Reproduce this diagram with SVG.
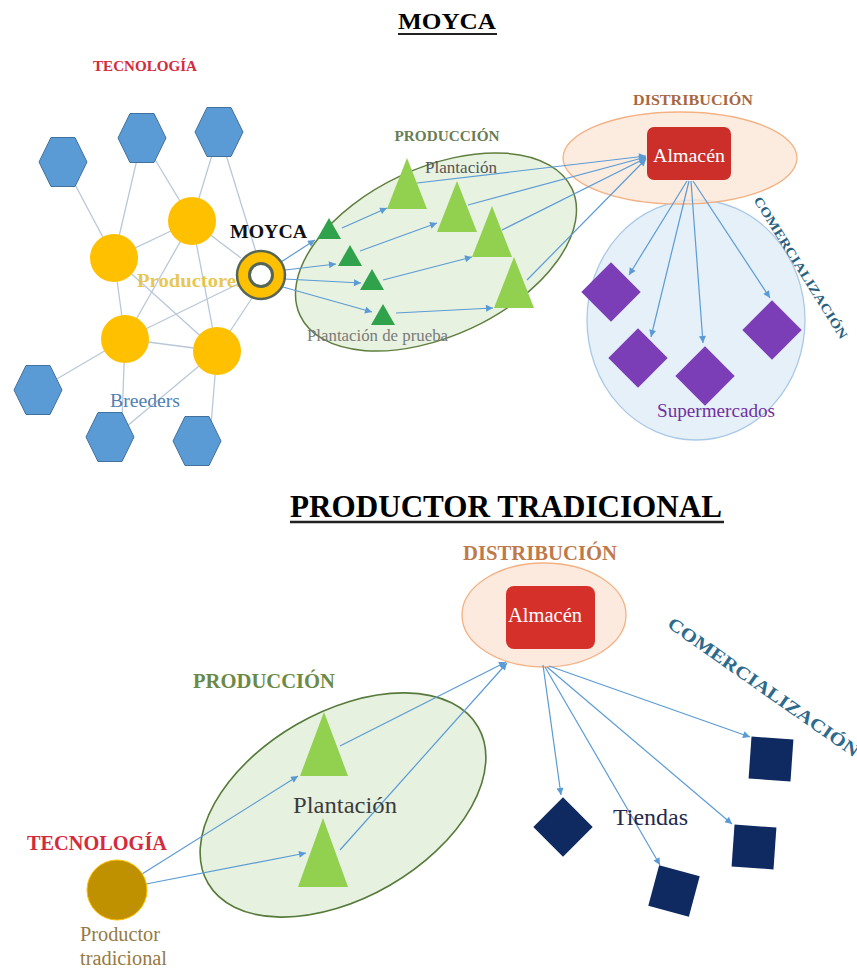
<svg xmlns="http://www.w3.org/2000/svg" xmlns:xlink="http://www.w3.org/1999/xlink" width="857" height="972" viewBox="0 0 857 972">
<style>
text{font-family:"Liberation Serif","Times New Roman",serif}
.b{font-weight:bold}
.net{stroke:#b9c8d8;stroke-width:1.3;fill:none}
.arr{stroke:#5b9bd5;stroke-width:1.2;fill:none;marker-end:url(#ah)}
.hex{fill:#5b9bd5;stroke:#41719c;stroke-width:1}
.prod{fill:#ffc000}
.st{fill:#2fa24b}
.lt{fill:#92d050}
.pur{fill:#7b3eb7}
.navy{fill:#0f2a60}
</style>
<defs>
<marker id="ah" viewBox="0 0 10 10" refX="10" refY="5" markerWidth="9" markerHeight="7" markerUnits="userSpaceOnUse" orient="auto">
<path d="M0,0 L10,5 L0,10 z" fill="#5b9bd5"/>
</marker>
<polygon id="hexs" points="-24,0 -12,-24.5 12,-24.5 24,0 12,24.5 -12,24.5"/>
<polygon id="tri" points="0,-26 20,25 -20,25"/>
<polygon id="stri" points="0,-11 12,10 -12,10"/>
<rect id="sq" x="-21" y="-21" width="42" height="42"/>
</defs>
<rect width="857" height="972" fill="#ffffff"/>

<!-- Titles -->
<g id="title-moyca">
<text x="447" y="29" class="b" font-size="23" text-anchor="middle" textLength="98" lengthAdjust="spacingAndGlyphs">MOYCA</text>
<line x1="398" y1="34" x2="497" y2="34" stroke="#222" stroke-width="2"/>
</g>
<g id="title-trad">
<text x="506" y="517" class="b" font-size="32" text-anchor="middle" textLength="432" lengthAdjust="spacingAndGlyphs">PRODUCTOR TRADICIONAL</text>
<line x1="290" y1="522" x2="724" y2="522" stroke="#222" stroke-width="2.5"/>
</g>

<!-- TOP: area ellipses -->
<g id="comercializacion-top">
<ellipse cx="696" cy="320" rx="109" ry="120" fill="#deebf7" fill-opacity="0.75" stroke="#a9c9e6" stroke-width="1.3"/>
<text class="b" font-size="13" fill="#2b5f7e" text-anchor="middle" textLength="165" lengthAdjust="spacingAndGlyphs" transform="translate(797,270) rotate(58)">COMERCIALIZACIÓN</text>
</g>
<g id="distribucion-top">
<ellipse cx="680" cy="158" rx="117" ry="46" fill="#fbe5d6" fill-opacity="0.75" stroke="#f4b183" stroke-width="1.3"/>
<text x="693" y="105" class="b" font-size="14" fill="#a8683f" text-anchor="middle" textLength="120" lengthAdjust="spacingAndGlyphs">DISTRIBUCIÓN</text>
</g>
<g id="produccion-top">
<ellipse cx="436" cy="252" rx="150" ry="84" transform="rotate(-25 436 252)" fill="#e2efd9" fill-opacity="0.8" stroke="#5e7e3e" stroke-width="1.5"/>
<text x="447" y="141" class="b" font-size="14" fill="#6a7d52" text-anchor="middle" textLength="105" lengthAdjust="spacingAndGlyphs">PRODUCCIÓN</text>
</g>
<text x="93" y="71" class="b" font-size="15" fill="#d42a3c" textLength="104" lengthAdjust="spacingAndGlyphs">TECNOLOGÍA</text>

<!-- BOTTOM: area ellipses -->
<g id="produccion-bottom">
<ellipse cx="343" cy="805" rx="156" ry="93" transform="rotate(-30 343 805)" fill="#e2efd9" fill-opacity="0.85" stroke="#567a3a" stroke-width="1.6"/>
<text x="193" y="688" class="b" font-size="20" fill="#6c8a47" textLength="142" lengthAdjust="spacingAndGlyphs">PRODUCCIÓN</text>
</g>
<g id="distribucion-bottom">
<ellipse cx="544" cy="615" rx="82" ry="52" fill="#fbe5d6" fill-opacity="0.8" stroke="#f4b183" stroke-width="1.3"/>
<text x="463" y="560" class="b" font-size="20" fill="#c0794a" textLength="154" lengthAdjust="spacingAndGlyphs">DISTRIBUCIÓN</text>
</g>
<text class="b" font-size="18" fill="#2d6a8c" text-anchor="middle" textLength="229" lengthAdjust="spacingAndGlyphs" transform="translate(760,692) rotate(35)">COMERCIALIZACIÓN</text>

<!-- connectors -->
<g id="connectors">
<line class="net" x1="63" y1="162" x2="114" y2="258"/>
<line class="net" x1="142" y1="138" x2="114" y2="258"/>
<line class="net" x1="142" y1="138" x2="192" y2="221"/>
<line class="net" x1="219" y1="132" x2="192" y2="221"/>
<line class="net" x1="219" y1="132" x2="256" y2="252"/>
<line class="net" x1="114" y1="258" x2="192" y2="221"/>
<line class="net" x1="114" y1="258" x2="125" y2="339"/>
<line class="net" x1="114" y1="258" x2="217" y2="351"/>
<line class="net" x1="192" y1="221" x2="125" y2="339"/>
<line class="net" x1="192" y1="221" x2="217" y2="351"/>
<line class="net" x1="192" y1="221" x2="241" y2="258"/>
<line class="net" x1="125" y1="339" x2="238" y2="284"/>
<line class="net" x1="125" y1="339" x2="217" y2="351"/>
<line class="net" x1="217" y1="351" x2="252" y2="298"/>
<line class="net" x1="125" y1="339" x2="38" y2="390"/>
<line class="net" x1="125" y1="339" x2="122" y2="420"/>
<line class="net" x1="217" y1="351" x2="120" y2="432"/>
<line class="net" x1="217" y1="351" x2="211" y2="425"/>

<line class="arr" x1="281" y1="262" x2="315" y2="240"/>
<line class="arr" x1="285" y1="270" x2="336" y2="264"/>
<line class="arr" x1="285" y1="279" x2="361" y2="283"/>
<line class="arr" x1="283" y1="287" x2="372" y2="312"/>
<line class="arr" x1="342" y1="228" x2="387" y2="208"/>
<line class="arr" x1="360" y1="251" x2="437" y2="223"/>
<line class="arr" x1="383" y1="280" x2="472" y2="257"/>
<line class="arr" x1="396" y1="313" x2="493" y2="308"/>
<line class="arr" x1="417" y1="183" x2="646" y2="156"/>
<line class="arr" x1="468" y1="205" x2="646" y2="157"/>
<line class="arr" x1="502" y1="230" x2="646" y2="158"/>
<line class="arr" x1="527" y1="280" x2="646" y2="159"/>
<line class="arr" x1="687" y1="181" x2="629" y2="275"/>
<line class="arr" x1="689" y1="181" x2="651" y2="337"/>
<line class="arr" x1="691" y1="181" x2="703" y2="343"/>
<line class="arr" x1="693" y1="181" x2="770" y2="298"/>

<line class="arr" x1="142" y1="874" x2="298" y2="776"/>
<line class="arr" x1="146" y1="884" x2="306" y2="853"/>
<line class="arr" x1="340" y1="746" x2="506" y2="662"/>
<line class="arr" x1="340" y1="850" x2="507" y2="663"/>
<line class="arr" x1="543" y1="665" x2="561" y2="795"/>
<line class="arr" x1="545" y1="667" x2="660" y2="865"/>
<line class="arr" x1="547" y1="667" x2="732" y2="824"/>
<line class="arr" x1="549" y1="666" x2="750" y2="737"/>
</g>

<!-- TOP nodes: breeders -->
<g id="breeder-1"><use xlink:href="#hexs" class="hex" x="63" y="162"/></g>
<g id="breeder-2"><use xlink:href="#hexs" class="hex" x="142" y="138"/></g>
<g id="breeder-3"><use xlink:href="#hexs" class="hex" x="219" y="132"/></g>
<g id="breeder-4"><use xlink:href="#hexs" class="hex" x="38" y="390"/></g>
<g id="breeder-5"><use xlink:href="#hexs" class="hex" x="110" y="437"/></g>
<g id="breeder-6"><use xlink:href="#hexs" class="hex" x="197" y="441"/></g>
<text x="110" y="407" font-size="19.5" fill="#4f7fb3" textLength="70" lengthAdjust="spacingAndGlyphs">Breeders</text>

<!-- productores -->
<g id="productor-1"><circle class="prod" cx="114" cy="258" r="24"/></g>
<g id="productor-2"><circle class="prod" cx="192" cy="221" r="24"/></g>
<g id="productor-3"><circle class="prod" cx="125" cy="339" r="24"/></g>
<g id="productor-4"><circle class="prod" cx="217" cy="351" r="24"/></g>
<text x="137" y="287" class="b" font-size="19" fill="#e5bf3d" fill-opacity="0.9" textLength="107" lengthAdjust="spacingAndGlyphs">Productores</text>

<!-- MOYCA node -->
<g id="moyca">
<circle cx="261" cy="275" r="24" fill="#ffc000" stroke="#566656" stroke-width="2.5"/>
<circle cx="261" cy="275" r="11.5" fill="#ffffff" stroke="#566656" stroke-width="3"/>
<text x="230" y="238" class="b" font-size="19" fill="#111" textLength="77" lengthAdjust="spacingAndGlyphs">MOYCA</text>
</g>

<!-- plantations -->
<g id="prueba-1"><use xlink:href="#stri" class="st" x="329" y="229"/></g>
<g id="prueba-2"><use xlink:href="#stri" class="st" x="350" y="256"/></g>
<g id="prueba-3"><use xlink:href="#stri" class="st" x="372" y="280"/></g>
<g id="prueba-4"><use xlink:href="#stri" class="st" x="383" y="315"/></g>
<g id="plantacion-1"><use xlink:href="#tri" class="lt" x="407" y="184"/></g>
<g id="plantacion-2"><use xlink:href="#tri" class="lt" x="457" y="207"/></g>
<g id="plantacion-3"><use xlink:href="#tri" class="lt" x="492" y="232"/></g>
<g id="plantacion-4"><use xlink:href="#tri" class="lt" x="514" y="283"/></g>
<text x="425" y="173" font-size="17" fill="#555" textLength="72" lengthAdjust="spacingAndGlyphs">Plantación</text>
<text x="307" y="341" font-size="17" fill="#7a7a7a" textLength="141" lengthAdjust="spacingAndGlyphs">Plantación de prueba</text>

<!-- Almacén top -->
<g id="almacen-top">
<rect x="647" y="127" width="84" height="53" rx="7" fill="#cc2f2a"/>
<text x="689" y="162" font-size="19" fill="#ffffff" text-anchor="middle" textLength="72" lengthAdjust="spacingAndGlyphs">Almacén</text>
</g>

<!-- supermarkets -->
<g id="super-1"><use xlink:href="#sq" class="pur" transform="translate(611,292) rotate(45)"/></g>
<g id="super-2"><use xlink:href="#sq" class="pur" transform="translate(638,358) rotate(45)"/></g>
<g id="super-3"><use xlink:href="#sq" class="pur" transform="translate(705,376) rotate(45)"/></g>
<g id="super-4"><use xlink:href="#sq" class="pur" transform="translate(772,330) rotate(45)"/></g>
<text x="657" y="417" font-size="19" fill="#7030a0" textLength="118" lengthAdjust="spacingAndGlyphs">Supermercados</text>

<!-- BOTTOM nodes -->
<g id="plantacion-b1"><polygon points="324,712 348,776 300,776" class="lt"/></g>
<g id="plantacion-b2"><polygon points="323,818 348,887 298,887" class="lt"/></g>
<text x="293" y="813" font-size="24" fill="#3c3c3c" textLength="104" lengthAdjust="spacingAndGlyphs">Plantación</text>

<g id="almacen-bottom">
<rect x="506" y="586" width="89" height="63" rx="8" fill="#d6302a"/>
<text x="545" y="622" font-size="20" fill="#ffffff" text-anchor="middle" textLength="74" lengthAdjust="spacingAndGlyphs">Almacén</text>
</g>

<g id="tienda-1"><use xlink:href="#sq" class="navy" transform="translate(563,827) rotate(45)"/></g>
<g id="tienda-2"><use xlink:href="#sq" class="navy" transform="translate(674,891) rotate(15)"/></g>
<g id="tienda-3"><use xlink:href="#sq" class="navy" transform="translate(754,847) rotate(4)"/></g>
<g id="tienda-4"><use xlink:href="#sq" class="navy" transform="translate(771,759) rotate(4)"/></g>
<text x="613" y="825" font-size="23" fill="#1f2a4d" textLength="75" lengthAdjust="spacingAndGlyphs">Tiendas</text>

<g id="productor-tradicional">
<circle cx="117" cy="890" r="30" fill="#bf9000" stroke="#ffc000" stroke-width="1"/>
<text x="27" y="850" class="b" font-size="20" fill="#d42a3c" textLength="140" lengthAdjust="spacingAndGlyphs">TECNOLOGÍA</text>
<text x="80" y="941" font-size="20" fill="#957b45" textLength="80" lengthAdjust="spacingAndGlyphs">Productor</text>
<text x="80" y="965" font-size="20" fill="#957b45" textLength="87" lengthAdjust="spacingAndGlyphs">tradicional</text>
</g>
</svg>
